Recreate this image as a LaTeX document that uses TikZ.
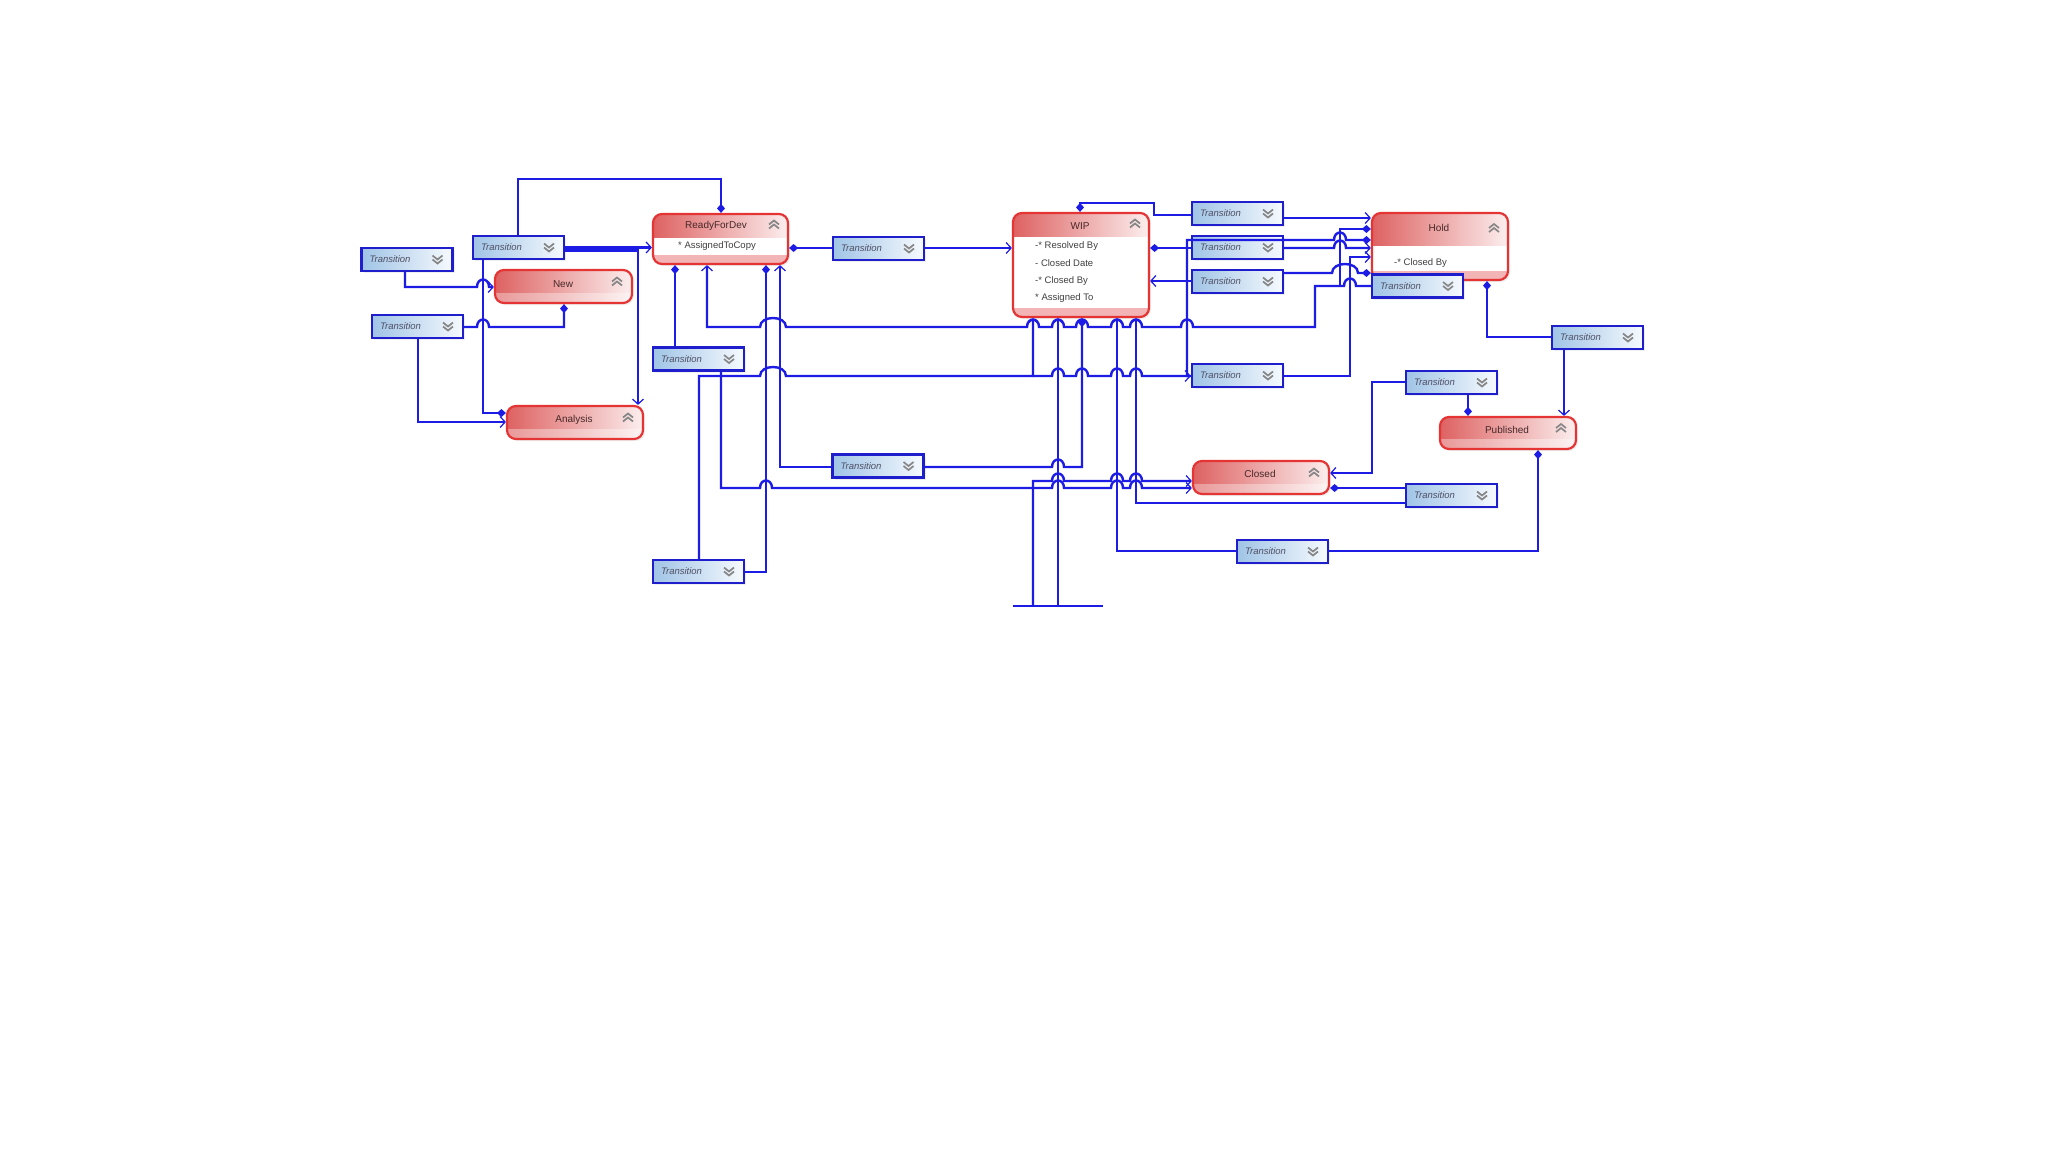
\documentclass[tikz,border=0pt]{standalone}
\usepackage{fontspec}
\setmainfont{Liberation Sans}
\usetikzlibrary{arrows.meta,shadows}
\definecolor{lblue}{RGB}{28,28,228}
\definecolor{tborder}{RGB}{30,30,205}
\definecolor{tfillL}{RGB}{160,196,230}
\definecolor{tfillR}{RGB}{246,250,254}
\definecolor{sred}{RGB}{228,52,52}
\definecolor{sfillL}{RGB}{222,98,98}
\definecolor{sfillR}{RGB}{252,238,238}
\definecolor{sband}{RGB}{242,180,180}
\definecolor{chevg}{RGB}{135,135,135}
\definecolor{ttext}{RGB}{80,80,100}
\definecolor{stext}{RGB}{70,40,40}

\def\hopR#1#2{-- ({#1-6},#2) .. controls ({#1-6},{#2-10}) and ({#1+6},{#2-10}) .. ({#1+6},#2)}
\def\hopL#1#2{-- ({#1+6},#2) .. controls ({#1+6},{#2-10}) and ({#1-6},{#2-10}) .. ({#1-6},#2)}
\def\hopRW#1#2{-- ({#1-13},#2) .. controls ({#1-13},{#2-12}) and ({#1+13},{#2-12}) .. ({#1+13},#2)}
\def\hopLW#1#2{-- ({#1+13},#2) .. controls ({#1+13},{#2-12}) and ({#1-13},{#2-12}) .. ({#1-13},#2)}

\tikzset{
  conn/.style={draw=lblue, line width=2.4pt},
  src/.style={arrows={Diamond[length=9pt,width=8pt]-}},
  tgt/.style={arrows={-Straight Barb[length=5pt,width=11pt,line width=1.2pt]}},
  chev/.style={draw=chevg, line width=1.7pt, sharp corners, line join=miter},
  trans/.style={draw=tborder, line width=2.3pt, left color=tfillL, right color=tfillR,
    minimum width=91pt, minimum height=23pt, inner xsep=8pt, inner ysep=0pt,
    text width=75pt, align=left, text=ttext, font=\fontsize{9.5}{10}\selectfont\itshape,
    drop shadow={opacity=0.12,shadow xshift=2pt,shadow yshift=-2pt},
    path picture={
      \draw[chev] ([xshift=-20pt,yshift=4pt]path picture bounding box.east) -- ++(5pt,-4pt) -- ++(5pt,4pt);
      \draw[chev] ([xshift=-20pt,yshift=0pt]path picture bounding box.east) -- ++(5pt,-4pt) -- ++(5pt,4pt);
    }},
  sstate/.style={draw=sred, line width=2.2pt, rounded corners=9pt, left color=sfillL, right color=sfillR,
    inner sep=0pt, drop shadow={opacity=0.12,shadow xshift=2pt,shadow yshift=-2pt},
    path picture={
      \fill[white,opacity=0.35,sharp corners] ([yshift=10pt]path picture bounding box.south west) rectangle (path picture bounding box.south east);
      \draw[chev] ([xshift=-20pt,yshift=1pt]path picture bounding box.east) -- ++(5pt,4pt) -- ++(5pt,-4pt);
      \draw[chev] ([xshift=-20pt,yshift=5pt]path picture bounding box.east) -- ++(5pt,4pt) -- ++(5pt,-4pt);
    }},
  cstate/.style={draw=sred, line width=2.2pt, rounded corners=9pt, fill=white,
    inner sep=0pt, drop shadow={opacity=0.12,shadow xshift=2pt,shadow yshift=-2pt},
    path picture={
      \fill[left color=sfillL,right color=sfillR,sharp corners] (path picture bounding box.north west) rectangle ([yshift=-#1]path picture bounding box.north east);
      \fill[sband,sharp corners] ([yshift=9pt]path picture bounding box.south west) rectangle (path picture bounding box.south east);
      \draw[chev] ([xshift=-19pt,yshift=-#1/2-3pt]path picture bounding box.north east) -- ++(5pt,4pt) -- ++(5pt,-4pt);
      \draw[chev] ([xshift=-19pt,yshift=-#1/2+1pt]path picture bounding box.north east) -- ++(5pt,4pt) -- ++(5pt,-4pt);
    }},
  cstate/.default=23pt,
  stitle/.style={font=\fontsize{10}{12}\selectfont, text=stext, inner sep=0pt},
  sattr/.style={font=\fontsize{9.5}{11}\selectfont, text=black!75, inner sep=0pt},
}

\begin{document}
\begin{tikzpicture}[x=1pt,y=-1pt]
\fill[white] (0,0) rectangle (2048,1152);
\useasboundingbox (0,0) rectangle (2048,1152);

% ---------- states ----------
\node[cstate, minimum width=135pt, minimum height=50pt] (rfd) at (720.5,239) {};
\node[stitle] (rfdT) at (716,226) {ReadyForDev};
\node[sattr] (rfdA) at (717,246) {* AssignedToCopy};

\node[sstate, minimum width=137pt, minimum height=33pt] (new) at (563.5,286.5) {};
\node[stitle] (newT) at (563,284) {New};

\node[sstate, minimum width=136pt, minimum height=33pt] (analysis) at (575,422.5) {};
\node[stitle] (analysisT) at (574,420) {Analysis};

\node[cstate, minimum width=136pt, minimum height=104pt] (wip) at (1081,265) {};
\node[stitle] (wipT) at (1080,226) {WIP};
\node[sattr,anchor=west] (wipA1) at (1035,246) {-* Resolved By};
\node[sattr,anchor=west] (wipA2) at (1035,263) {- Closed Date};
\node[sattr,anchor=west] (wipA3) at (1035,281) {-* Closed By};
\node[sattr,anchor=west] (wipA4) at (1035,298) {* Assigned To};

\node[cstate=32pt, minimum width=136pt, minimum height=67pt] (hold) at (1440,246.5) {};
\node[stitle] (holdT) at (1439,228) {Hold};
\node[sattr,anchor=west] (holdA) at (1394,263) {-* Closed By};

\node[sstate, minimum width=136pt, minimum height=32pt] (published) at (1508,433) {};
\node[stitle] (publishedT) at (1507,430) {Published};

\node[sstate, minimum width=136pt, minimum height=33pt] (closed) at (1261,477.5) {};
\node[stitle] (closedT) at (1260,474) {Closed};

% ---------- transitions ----------
\node[trans] (t1) at (407,259.5) {Transition};
\node[trans] (t2) at (518.5,247.5) {Transition};
\node[trans] (t3) at (417.5,326.5) {Transition};
\node[trans] (t4) at (698.5,359) {Transition};
\node[trans] (tj) at (698.5,571.5) {Transition};
\node[trans] (t5) at (878.5,248.5) {Transition};
\node[trans] (tk) at (878,466) {Transition};
\node[trans] (ta) at (1237.5,213.5) {Transition};
\node[trans] (tb) at (1237.5,247.5) {Transition};
\node[trans] (tc) at (1237.5,281.5) {Transition};
\node[trans] (td) at (1237.5,375.5) {Transition};
\node[trans] (te) at (1417.5,286) {Transition};
\node[trans] (tf) at (1597.5,337.5) {Transition};
\node[trans] (tg) at (1451.5,382.5) {Transition};
\node[trans] (th) at (1451.5,495.5) {Transition};
\node[trans] (ti) at (1282.5,551.5) {Transition};

% ---------- junction / free-end coordinates ----------
\coordinate (j1) at (1033,376);
\coordinate (j2) at (1340,286);
\coordinate (b1) at (1013,606);
\coordinate (b2) at (1103,606);
\coordinate (b3) at (1058,606);
\coordinate (b4) at (1033,606);

% ---------- connectors, left part ----------
\draw[conn,src] (721,0 |- rfd.north) -- (721,179) -- (518,179) -- (518,0 |- t2.north);
\draw[conn,tgt] (t2.east) -- (rfd.west |- t2.east);
\draw[conn,tgt] ([yshift=-3pt]t2.east) -- (638,250.5) -- (638,0 |- analysis.north);
\draw[conn,src] (analysis.west |- 0,413) -- (483,413) -- (483,0 |- t2.south);
\draw[conn,tgt] (405,0 |- t1.south) -- (405,287) \hopR{483}{287} -- (new.west |- 0,287);
\draw[conn,src] (564,0 |- new.south) -- (564,327) \hopL{483}{327} -- (t3.east |- 0,327);
\draw[conn,tgt] (418,0 |- t3.south) -- (418,422) -- (analysis.west |- 0,422);
\draw[conn,src] (675,0 |- rfd.south) -- (675,0 |- t4.north);
\draw[conn,src] (766,0 |- rfd.south) -- (766,572) -- (tj.east |- 0,572);
\draw[conn,tgt] (tk.west |- 0,467) -- (780,467) -- (780,0 |- rfd.south);
\draw[conn,src] (rfd.east |- 0,248) -- (t5.west |- 0,248);
\draw[conn,tgt] (t5.east |- 0,248) -- (wip.west |- 0,248);

% ---------- long horizontals ----------
\draw[conn,tgt] (te.west) \hopL{1350}{286} -- (1315,286) -- (1315,327) \hopL{1187}{327} \hopL{1136}{327} \hopL{1117}{327} \hopL{1082}{327} \hopL{1058}{327} \hopL{1033}{327} \hopLW{773}{327} -- (707,327) -- (707,0 |- rfd.south);
\draw[conn,tgt] (699,0 |- tj.north) -- (699,376) \hopRW{773}{376} -- (1033,376) -- (1033,0 |- wip.south);
\draw[conn,tgt] (j1) \hopR{1058}{376} \hopR{1082}{376} \hopR{1117}{376} \hopR{1136}{376} -- (td.west |- 0,376);
\draw[conn,tgt] (721,0 |- t4.south) -- (721,488) \hopR{766}{488} \hopR{1058}{488} \hopR{1117}{488} \hopR{1136}{488} -- (closed.west |- 0,488);

% ---------- bottom bar ----------
\draw[conn] (b1) -- (b2);
\draw[conn,tgt] (b3) -- (1058,0 |- wip.south);
\draw[conn,tgt] (b4) -- (1033,481) \hopR{1058}{481} \hopR{1117}{481} \hopR{1136}{481} -- (closed.west |- 0,481);

% ---------- WIP bottom ----------
\draw[conn,src] (1082,0 |- wip.south) -- (1082,467) \hopL{1058}{467} -- (tk.east |- 0,467);
\draw[conn,tgt] (ti.west |- 0,551) -- (1117,551) -- (1117,0 |- wip.south);
\draw[conn,tgt] (th.west |- 0,503) -- (1136,503) -- (1136,0 |- wip.south);

% ---------- right part ----------
\draw[conn,src] (closed.east |- 0,488) -- (th.west |- 0,488);
\draw[conn,tgt] (tg.west |- 0,382) -- (1372,382) -- (1372,473) -- (closed.east |- 0,473);
\draw[conn,src] (1468,0 |- published.north) -- (1468,0 |- tg.south);
\draw[conn,src] (1487,0 |- hold.south) -- (1487,337) -- (tf.west |- 0,337);
\draw[conn,tgt] (1564,0 |- tf.south) -- (1564,0 |- published.north);
\draw[conn,src] (1538,0 |- published.south) -- (1538,551) -- (ti.east |- 0,551);

\draw[conn,src] (1080,0 |- wip.north) -- (1080,203) -- (1154,203) -- (1154,215) -- (ta.west |- 0,215);
\draw[conn,tgt] (ta.east |- 0,218) -- (hold.west |- 0,218);
\draw[conn,src] (wip.east |- 0,248) -- (tb.west |- 0,248);
\draw[conn,tgt] (tb.east |- 0,248) \hopR{1340}{248} -- (hold.west |- 0,248);
\draw[conn,src] (hold.west |- 0,240) \hopL{1340}{240} -- (1187,240) -- (1187,376) -- (td.west |- 0,376);
\draw[conn,tgt] (td.east |- 0,376) -- (1350,376) -- (1350,257) -- (hold.west |- 0,257);
\draw[conn,src] (hold.west |- 0,229) -- (1340,229) -- (j2);
\draw[conn,tgt] (tc.west |- 0,281) -- (wip.east |- 0,281);
\draw[conn,src] (hold.west |- 0,273) \hopLW{1345}{273} -- (tc.east |- 0,273);
\end{tikzpicture}
\end{document}
